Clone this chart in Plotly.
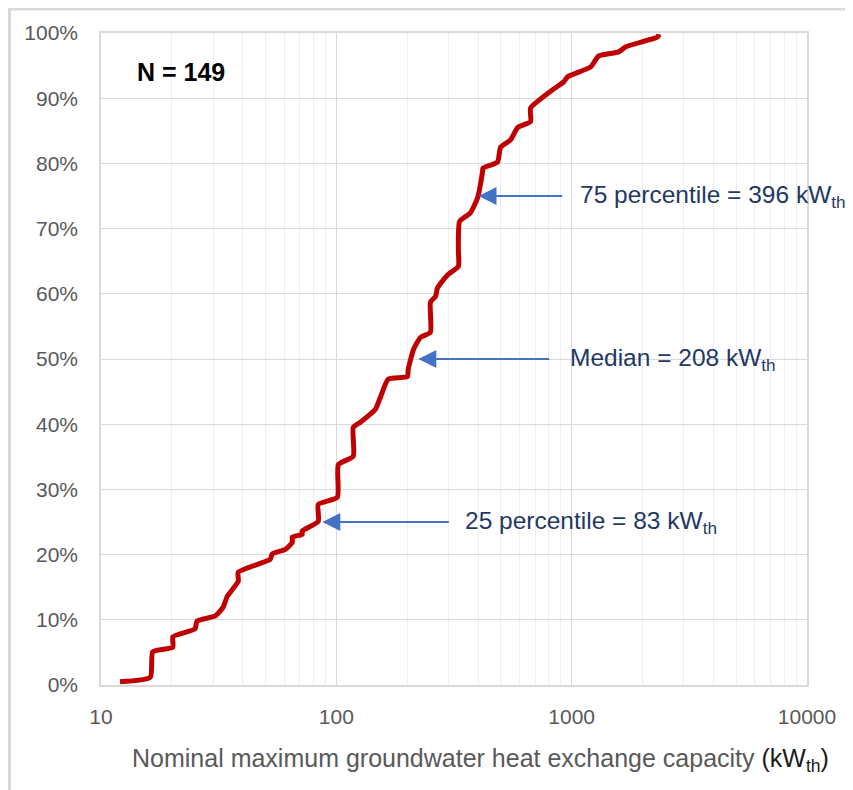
import numpy as np
import plotly.graph_objects as go

# Cumulative distribution (capacity in kW_th, cumulative share)
capacity_kw = [12.05, 16.2, 16.6, 20.2, 20.2, 25.1, 25.6, 30.6, 33.0, 34.4, 38.3, 38.3,
               52.4, 53.4, 60.7, 65.0, 65.0, 71.6, 71.6, 83.8, 83.8, 101, 102, 118,
               118, 126.5, 146.6, 153.8, 166, 200.5, 202, 213, 227.7, 251, 251, 264,
               269, 297, 330, 330, 334, 371, 398, 418, 420, 484, 499, 550, 589, 669,
               669, 830, 925, 962, 1205, 1303, 1585, 1698, 2323, 2344]
cum_share = [0.005, 0.012, 0.051, 0.058, 0.074, 0.086, 0.098, 0.106, 0.119, 0.136, 0.159, 0.173,
             0.193, 0.201, 0.208, 0.219, 0.227, 0.231, 0.236, 0.251, 0.277, 0.288, 0.338, 0.351,
             0.395, 0.403, 0.423, 0.441, 0.469, 0.473, 0.484, 0.515, 0.533, 0.541, 0.587, 0.596,
             0.609, 0.629, 0.642, 0.668, 0.711, 0.724, 0.747, 0.787, 0.793, 0.802, 0.825, 0.836,
             0.855, 0.864, 0.885, 0.913, 0.925, 0.933, 0.948, 0.965, 0.971, 0.979, 0.994, 0.998]

# Percentile annotations
pct_levels = [0.25, 0.50, 0.75]
pct_labels = ["25 percentile = 83 kW<sub>th</sub>",
              "Median = 208 kW<sub>th</sub>",
              "75 percentile = 396 kW<sub>th</sub>"]
arrow_head_kw = [87.2, 223, 402]
arrow_tail_kw = [305, 815, 925]
label_left_kw = [344, 962, 1062]

x_major = [10, 100, 1000, 10000]
x_minor = [m * d for d in [10, 100, 1000] for m in range(2, 10)]

fig = go.Figure()
fig.add_trace(go.Scatter(
    x=capacity_kw, y=cum_share, mode="lines",
    line=dict(color="#C00000", width=5, shape="spline", smoothing=0.5),
    hoverinfo="skip", showlegend=False))

ann = []
for lvl, lab, hx, tx, lx in zip(pct_levels, pct_labels, arrow_head_kw, arrow_tail_kw, label_left_kw):
    ann.append(dict(x=np.log10(hx), y=lvl, xref="x", yref="y",
                    ax=np.log10(tx), ay=lvl, axref="x", ayref="y",
                    text="", showarrow=True, arrowhead=2, arrowsize=2,
                    arrowwidth=1.8, arrowcolor="#4472C4"))
    ann.append(dict(x=np.log10(lx), y=lvl, xref="x", yref="y", text=lab,
                    showarrow=False, xanchor="left", yanchor="middle",
                    font=dict(family="Liberation Sans, Arial", size=24.5, color="#1F3864")))

ann.append(dict(x=0.048, y=0.94, xref="paper", yref="paper", text="<b>N = 149</b>",
                showarrow=False, xanchor="left", yanchor="middle",
                font=dict(family="Liberation Sans, Arial", size=25, color="#000000")))
ann.append(dict(x=0.538, y=-0.115, xref="paper", yref="paper",
                text="Nominal maximum groundwater heat exchange capacity "
                     "<span style='color:#1a1a1a'>(kW<sub>th</sub>)</span>",
                showarrow=False, xanchor="center", yanchor="middle",
                font=dict(family="Liberation Sans, Arial", size=25, color="#595959")))

fig.update_layout(
    width=845, height=782, autosize=False,
    margin=dict(l=93, r=46, t=25, b=105),
    paper_bgcolor="white", plot_bgcolor="white",
    annotations=ann,
    shapes=[dict(type="rect", xref="paper", yref="paper",
                 x0=-0.1296, x1=1.3, y0=-0.4, y1=1.0368,
                 line=dict(color="#D9D9D9", width=3), layer="below")],
    font=dict(family="Liberation Sans, Arial", color="#595959"),
)
fig.update_xaxes(type="log", range=[1, 4], tickvals=x_major,
                 ticktext=[str(v) for v in x_major],
                 showgrid=True, gridcolor="#D9D9D9", gridwidth=1.3,
                 minor=dict(tickmode="array", tickvals=x_minor, showgrid=True,
                            gridcolor="#EEEEEE", gridwidth=1.3, ticks=""),
                 showline=True, linecolor="#D9D9D9", linewidth=1.5, mirror=True,
                 ticks="outside", ticklen=12, tickcolor="rgba(0,0,0,0)",
                 tickfont=dict(size=21, color="#595959"), zeroline=False)
fig.update_yaxes(range=[0, 1], dtick=0.1, tickformat=".0%",
                 showgrid=True, gridcolor="#D9D9D9", gridwidth=1.3,
                 showline=True, linecolor="#D9D9D9", linewidth=1.5, mirror=True,
                 ticks="outside", ticklen=17, tickcolor="rgba(0,0,0,0)",
                 tickfont=dict(size=21, color="#595959"), zeroline=False)

fig.write_html("out.html")
